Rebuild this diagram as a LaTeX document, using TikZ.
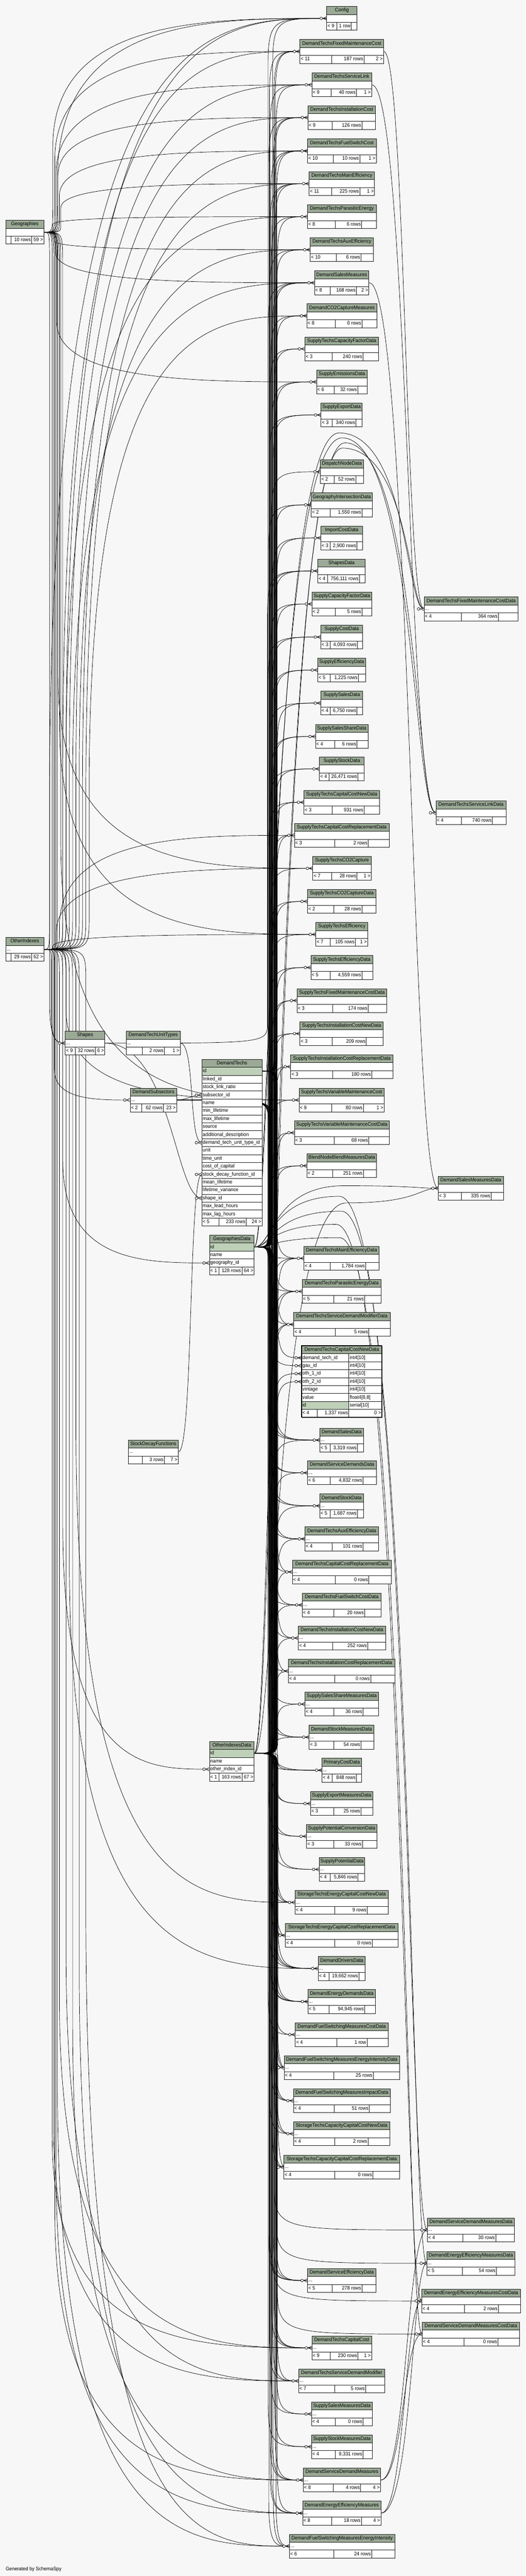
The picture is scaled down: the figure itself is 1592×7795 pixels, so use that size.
\documentclass[tikz,border=0pt]{standalone}
\usepackage{fontspec}
\setmainfont{Liberation Sans}[FakeStretch=0.93]
\usetikzlibrary{calc}
\definecolor{bgc}{RGB}{247,247,247}
\definecolor{hdr}{RGB}{155,170,150}
\definecolor{idc}{RGB}{190,209,184}
\newcommand\fs{\fontsize{15.5}{18}\selectfont}
\tikzset{
 cell/.style={draw=black!90, line width=1.3pt, inner sep=0pt, minimum height=24pt, anchor=north west, fill=white},
 hcell/.style={cell, fill=hdr, font=\fs, text height=11.5pt, text depth=3.5pt},
 lbl/.style={inner sep=0pt, font=\fs, text height=11.5pt, text depth=3.5pt},
 edge/.style={line width=1.1pt, draw=black},
}
\pgfdeclarelayer{bglayer}\pgfdeclarelayer{edgelayer}\pgfsetlayers{bglayer,edgelayer,main}
\def\fty{48}
\newcommand\tb[6]{\def\tbid{#1}\def\tbx{#2}\def\tby{#3}\def\tbw{#4}%
 \node[hcell,minimum width=#4pt] (#1) at (#2,#3) {#5};
 \node[cell,minimum width=#4pt] (#1r) at (#2,#3+24) {};
 \node[lbl,anchor=west,xshift=3pt] (#1rt) at (#1r.west) {#6};}
\newcommand\ft[5]{\pgfmathsetmacro\wa{#1-\tbx}\pgfmathsetmacro\wb{#2-#1}\pgfmathsetmacro\wc{\tbx+\tbw-#2}%
 \node[cell,minimum width=\wa pt] (\tbid fa) at (\tbx,\tby+\fty) {};
 \node[lbl,anchor=west,xshift=3pt] at (\tbid fa.west) {#3};
 \node[cell,minimum width=\wb pt] (\tbid fb) at (#1,\tby+\fty) {};
 \node[lbl,anchor=east,xshift=-3pt] at (\tbid fb.east) {#4};
 \node[cell,minimum width=\wc pt] (\tbid fc) at (#2,\tby+\fty) {};
 \node[lbl,anchor=east,xshift=-3pt] at (\tbid fc.east) {#5};}
\newcommand\fr[4]{%
 \node[cell,fill=#4,minimum width=143pt] (fc#1) at (913,4072+24*#1) {};
 \node[lbl,anchor=west,xshift=3pt] at (fc#1.west) {#2};
 \node[cell,minimum width=100pt] (fct#1) at (1056,4072+24*#1) {};
 \node[lbl,anchor=west,xshift=3pt] at (fct#1.west) {#3};}
% edges
\newcommand\bun[3]{\draw[edge] let \p1=(#1), \p2=(#2), \n1={ifthenelse(\y2<\y1,-1,1)}, \n2={min(60,abs(\y2-\y1)/4)}, \n3={min(140,abs(\y2-\y1)/2)} in
 (\p1) .. controls ({(#3)*1pt},\y1) .. ({(#3)*1pt},{\y1+(\n1)*(\n2)}) -- ({(#3)*1pt},{\y2-(\n1)*(\n3)}) .. controls ({(#3)*1pt},\y2) and ({(#3)*1pt+20pt},\y2) .. (\p2);}
\newcommand\lft[4]{\draw[edge] let \p1=(#1), \p2=(#2), \n1={ifthenelse(\y2<\y1,-1,1)}, \n2={abs(\y2-\y1)} in
 (\p1) .. controls ({(#3)*1pt},\y1) .. ({(#3)*1pt},{\y1+(\n1)*min(100,0.15*\n2)}) -- ({(#3)*1pt},{\y2-(\n1)*(#4)*\n2}) .. controls ({(#3)*1pt},\y2) and ({\x2-0.45*(\x2-(#3)*1pt)},\y2) .. (\p2);}
\newcommand\rgt[3]{\draw[edge] let \p1=(#1), \p2=(#2) in (\p1) .. controls ({(#3)*1pt},\y1) and ({(#3)*1pt},\y2) .. (\p2);}
\newcommand\arch[5]{\draw[edge] let \p1=(#1), \p2=(#2) in (\p1) .. controls ({(#3)*1pt},\y1) and ({(#3)*1pt},{-(#4)*1pt}) .. ({((#3)+(#5))/2*1pt},{-(#4)*1pt}) .. controls ({(#5)*1pt},{-(#4)*1pt}) and ({(#5)*1pt},\y2) .. (\p2);}
\newcommand\eG[3]{\lft{geor.east}{#1.west}{#2}{#3}}
\newcommand\eO[3]{\lft{othr.east}{#1.west}{#2}{#3}}
\newcommand\mk[1]{\draw[edge,fill=white] ([xshift=-16pt]#1) circle (4pt);
 \draw[edge] ([xshift=-11pt]#1) -- ([yshift=5pt]#1) ([xshift=-11pt]#1) -- ([yshift=-5pt]#1);}
\begin{document}
\begin{tikzpicture}[x=1pt,y=-1pt]
\useasboundingbox (0,0) rectangle (1592,7795);
\begin{pgfonlayer}{bglayer}\fill[bgc] (0,0) rectangle (1592,7795);\end{pgfonlayer}
% ---------------- central column
\tb{cfg}{989}{19}{92}{Config}{}\ft{1019}{1064}{< 9}{1 row}{}
\tb{dtfmc}{908}{119}{253}{DemandTechsFixedMaintenanceCost}{}\ft{1004}{1102}{< 11}{187 rows}{2 >}
\tb{dtsl}{944}{220}{181}{DemandTechsServiceLink}{}\ft{1003}{1079}{< 9}{40 rows}{1 >}
\tb{dtinst}{932}{319}{205}{DemandTechsInstallationCost}{}\ft{1005}{1096}{< 9}{126 rows}{}
\tb{dtfsc}{931}{420}{208}{DemandTechsFuelSwitchCost}{}\ft{1008}{1089}{< 10}{10 rows}{1 >}
\tb{dtme}{936}{519}{198}{DemandTechsMainEfficiency}{}\ft{1004}{1089}{< 11}{225 rows}{1 >}
\tb{dtpe}{931}{619}{208}{DemandTechsParasiticEnergy}{}\ft{1015}{1095}{< 8}{6 rows}{}
\tb{dtae}{939}{719}{192}{DemandTechsAuxEfficiency}{}\ft{1018}{1093}{< 10}{6 rows}{}
\tb{dsm}{952}{819}{165}{DemandSalesMeasures}{}\ft{1000}{1079}{< 8}{168 rows}{2 >}
\tb{dco}{929}{919}{212}{DemandCO2CaptureMeasures}{}\ft{1015}{1096}{< 8}{0 rows}{}
\tb{stcfd}{923}{1019}{223}{SupplyTechsCapacityFactorData}{}\ft{1005}{1099}{< 3}{240 rows}{}
\tb{sed}{958}{1119}{154}{SupplyEmissionsData}{}\ft{1011}{1083}{< 6}{32 rows}{}
\tb{sexd}{972}{1219}{124}{SupplyExportData}{}\ft{1005}{1078}{< 3}{340 rows}{}
\tb{dnd}{970}{1391}{130}{DispatchNodeData}{}\ft{1011}{1077}{< 2}{52 rows}{}
\tb{gid}{942}{1491}{185}{GeographyIntersectionData}{}\ft{1000}{1096}{< 2}{1,550 rows}{}
\tb{icd}{971}{1591}{127}{ImportCostData}{}\ft{1000}{1081}{< 3}{2,900 rows}{}
\tb{shd}{962}{1691}{144}{ShapesData}{}\ft{992}{1088}{< 4}{756,111 rows}{}
\tb{scfd}{944}{1791}{182}{SupplyCapacityFactorData}{}\ft{1015}{1096}{< 2}{5 rows}{}
\tb{scd}{971}{1891}{127}{SupplyCostData}{}\ft{1000}{1082}{< 3}{4,093 rows}{}
\tb{sefd}{962}{1991}{145}{SupplyEfficiencyData}{}\ft{1000}{1085}{< 5}{1,225 rows}{}
\tb{ssd}{971}{2091}{127}{SupplySalesData}{}\ft{1000}{1081}{< 4}{6,750 rows}{}
\tb{sssd}{955}{2192}{159}{SupplySalesShareData}{}\ft{1013}{1081}{< 4}{6 rows}{}
\tb{sstd}{967}{2290}{135}{SupplyStockData}{}\ft{996}{1084}{< 4}{26,471 rows}{}
\tb{stccn}{920}{2391}{229}{SupplyTechsCapitalCostNewData}{}\ft{1005}{1102}{< 3}{931 rows}{}
\tb{stccr}{891}{2491}{287}{SupplyTechsCapitalCostReplacementData}{}\ft{1013}{1115}{< 3}{2 rows}{}
\tb{stco}{947}{2591}{177}{SupplyTechsCO2Capture}{}\ft{1004}{1081}{< 7}{28 rows}{1 >}
\tb{stcod}{931}{2691}{207}{SupplyTechsCO2CaptureData}{}\ft{1010}{1096}{< 2}{28 rows}{}
\tb{ste}{956}{2791}{157}{SupplyTechsEfficiency}{}\ft{1000}{1076}{< 7}{105 rows}{1 >}
\tb{sted}{941}{2891}{187}{SupplyTechsEfficiencyData}{}\ft{1000}{1096}{< 5}{4,559 rows}{}
\tb{stfmcd}{899}{2991}{272}{SupplyTechsFixedMaintenanceCostData}{}\ft{1007}{1115}{< 3}{174 rows}{}
\tb{sticn}{908}{3091}{252}{SupplyTechsInstallationCostNewData}{}\ft{1005}{1109}{< 3}{209 rows}{}
\tb{sticr}{880}{3191}{310}{SupplyTechsInstallationCostReplacementData}{}\ft{1007}{1125}{< 3}{180 rows}{}
\tb{stvmc}{905}{3292}{258}{SupplyTechsVariableMaintenanceCost}{}\ft{1004}{1100}{< 9}{80 rows}{1 >}
\tb{stvmcd}{891}{3391}{288}{SupplyTechsVariableMaintenanceCostData}{}\ft{1011}{1117}{< 3}{68 rows}{}
\tb{bnb}{929}{3491}{211}{BlendNodeBlendMeasuresData}{}\ft{1007}{1100}{< 2}{251 rows}{}
\tb{dtmed}{920}{3771}{228}{DemandTechsMainEfficiencyData}{}\ft{1000}{1107}{< 4}{1,784 rows}{}
\tb{dtped}{915}{3871}{239}{DemandTechsParasiticEnergyData}{}\ft{1010}{1104}{< 5}{21 rows}{}
\tb{dtsdmd}{889}{3971}{292}{DemandTechsServiceDemandModifierData}{}\ft{1015}{1117}{< 4}{5 rows}{}
% focus table
\node[hcell,minimum width=243pt] (fc) at (913,4072) {DemandTechsCapitalCostNewData};
\fr{1}{demand\_tech\_id}{int4[10]}{white}
\fr{2}{gau\_id}{int4[10]}{white}
\fr{3}{oth\_1\_id}{int4[10]}{white}
\fr{4}{oth\_2\_id}{int4[10]}{white}
\fr{5}{vintage}{int4[10]}{white}
\fr{6}{value}{float4[8,8]}{white}
\fr{7}{id}{serial[10]}{idc}
\def\tbid{fc}\def\tbx{913}\def\tby{4072}\def\tbw{243}\def\fty{192}\ft{960}{1056}{< 4}{1,337 rows}{0 >}\def\fty{48}
\draw[line width=3pt] (913,4072) rectangle (1156,4288);
\tb{dsd}{968}{4321}{132}{DemandSalesData}{...}\ft{1000}{1082}{< 5}{3,319 rows}{}
\tb{dsdd}{931}{4420}{209}{DemandServiceDemandsData}{...}\ft{1000}{1099}{< 6}{4,832 rows}{}
\tb{dstd}{968}{4520}{132}{DemandStockData}{...}\ft{1000}{1082}{< 5}{1,687 rows}{}
\tb{dtaed}{923}{4620}{223}{DemandTechsAuxEfficiencyData}{...}\ft{1005}{1099}{< 4}{101 rows}{}
\tb{dtcrd}{885}{4720}{300}{DemandTechsCapitalCostReplacementData}{...}\ft{1015}{1117}{< 4}{0 rows}{}
\tb{dtfscd}{915}{4820}{239}{DemandTechsFuelSwitchCostData}{...}\ft{1010}{1104}{< 4}{20 rows}{}
\tb{dtinn}{903}{4920}{264}{DemandTechsInstallationCostNewData}{...}\ft{1007}{1113}{< 4}{252 rows}{}
\tb{dtinr}{873}{5020}{322}{DemandTechsInstallationCostReplacementData}{...}\ft{1013}{1122}{< 4}{0 rows}{}
\tb{sssmd}{923}{5120}{223}{SupplySalesShareMeasuresData}{...}\ft{1010}{1099}{< 4}{36 rows}{}
\tb{dstmd}{936}{5220}{196}{DemandStockMeasuresData}{...}\ft{1010}{1093}{< 3}{54 rows}{}
\tb{pcd}{975}{5320}{119}{PrimaryCostData}{...}\ft{1005}{1079}{< 4}{848 rows}{}
\tb{sexmd}{940}{5421}{188}{SupplyExportMeasuresData}{...}\ft{1010}{1093}{< 3}{25 rows}{}
\tb{spcd}{928}{5520}{213}{SupplyPotentialConversionData}{...}\ft{1010}{1097}{< 3}{33 rows}{}
\tb{spd}{966}{5620}{138}{SupplyPotentialData}{...}\ft{1000}{1084}{< 4}{5,846 rows}{}
\tb{steccn}{893}{5720}{282}{StorageTechsEnergyCapitalCostNewData}{...}\ft{1013}{1112}{< 4}{9 rows}{}
\tb{steccr}{864}{5820}{341}{StorageTechsEnergyCapitalCostReplacementData}{...}\ft{1013}{1127}{< 4}{0 rows}{}
\tb{ddd}{963}{5920}{143}{DemandDriversData}{...}\ft{996}{1086}{< 4}{19,662 rows}{}
\tb{dedd}{932}{6020}{205}{DemandEnergyDemandsData}{...}\ft{996}{1104}{< 5}{94,945 rows}{}
\tb{dfsmcd}{894}{6120}{281}{DemandFuelSwitchingMeasuresCostData}{...}\ft{1019}{1111}{< 4}{1 row}{}
\tb{dfsmeid}{860}{6220}{349}{DemandFuelSwitchingMeasuresEnergyIntensityData}{...}\ft{1010}{1130}{< 4}{25 rows}{}
\tb{dfsmid}{888}{6320}{294}{DemandFuelSwitchingMeasuresImpactData}{...}\ft{1011}{1118}{< 4}{51 rows}{}
\tb{stcccn}{888}{6420}{292}{StorageTechsCapacityCapitalCostNewData}{...}\ft{1013}{1114}{< 4}{2 rows}{}
\tb{stcccr}{859}{6521}{351}{StorageTechsCapacityCapitalCostReplacementData}{...}\ft{1013}{1129}{< 4}{0 rows}{}
\tb{dsefd}{931}{6864}{207}{DemandServiceEfficiencyData}{...}\ft{1005}{1096}{< 5}{278 rows}{}
\tb{dtcc}{944}{7068}{181}{DemandTechsCapitalCost}{...}\ft{1000}{1084}{< 9}{230 rows}{1 >}
\tb{dtsdm}{904}{7168}{261}{DemandTechsServiceDemandModifier}{...}\ft{1013}{1107}{< 7}{5 rows}{}
\tb{ssmd}{943}{7268}{184}{SupplySalesMeasuresData}{...}\ft{1015}{1099}{< 4}{0 rows}{}
\tb{sstmd}{943}{7367}{184}{SupplyStockMeasuresData}{...}\ft{1015}{1099}{< 4}{9,331 rows}{}
\tb{dsdm}{918}{7468}{234}{DemandServiceDemandMeasures}{...}\ft{1008}{1092}{< 8}{4 rows}{4 >}
\tb{deem}{916}{7568}{237}{DemandEnergyEfficiencyMeasures}{...}\ft{1004}{1094}{< 8}{18 rows}{4 >}
\tb{dfsmei}{876}{7668}{319}{DemandFuelSwitchingMeasuresEnergyIntensity}{...}\ft{1010}{1125}{< 6}{24 rows}{}
% ---------------- right column
\tb{dtfmcd}{1284}{1806}{285}{DemandTechsFixedMaintenanceCostData}{...}\ft{1397}{1509}{< 4}{364 rows}{}
\tb{dtsld}{1320}{2423}{212}{DemandTechsServiceLinkData}{}\ft{1397}{1491}{< 4}{740 rows}{}
\tb{dsmd}{1327}{3559}{197}{DemandSalesMeasuresData}{}\ft{1397}{1487}{< 3}{335 rows}{}
\tb{dsdmd}{1294}{6711}{264}{DemandServiceDemandMeasuresData}{...}\ft{1402}{1501}{< 4}{30 rows}{}
\tb{deemd}{1292}{6812}{267}{DemandEnergyEfficiencyMeasuresData}{...}\ft{1400}{1503}{< 5}{54 rows}{}
\tb{deemcd}{1277}{6926}{299}{DemandEnergyEfficiencyMeasuresCostData}{}\ft{1406}{1509}{< 4}{2 rows}{}
\tb{dsdmcd}{1278}{7026}{295}{DemandServiceDemandMeasuresCostData}{}\ft{1405}{1508}{< 4}{0 rows}{}
% ---------------- left side
\tb{geo}{17}{666}{115}{Geographies}{}\ft{33.5}{95.4}{}{10 rows}{59 >}
\tb{oth}{17}{2836}{115}{OtherIndexes}{...}\ft{33.5}{95.4}{}{29 rows}{62 >}
\tb{shp}{197}{3120}{120}{Shapes}{...}\ft{227}{288}{< 9}{32 rows}{6 >}
\tb{dtut}{382}{3120}{163}{DemandTechUnitTypes}{...}\ft{431}{497}{}{2 rows}{1 >}
\tb{dss}{394}{3292}{140}{DemandSubsectors}{...}\ft{429}{494}{< 2}{62 rows}{23 >}
\tb{sdf}{388}{4357}{151}{StockDecayFunctions}{...}\ft{431}{497}{}{3 rows}{7 >}
\node[hcell,minimum width=182pt] (dt) at (611,3205) {DemandTechs};
\foreach \t [count=\i] in {id,linked\_id,stock\_link\_ratio,subsector\_id,name,min\_lifetime,max\_lifetime,source,additional\_description,demand\_tech\_unit\_type\_id,unit,time\_unit,cost\_of\_capital,stock\_decay\_function\_id,mean\_lifetime,lifetime\_variance,shape\_id,max\_lead\_hours,max\_lag\_hours}{
 \ifnum\i=1 \def\ff{idc}\else\def\ff{white}\fi
 \node[cell,fill=\ff,minimum width=182pt] (dt\i) at (611,3205+24*\i) {};
 \node[lbl,anchor=west,xshift=3pt] at (dt\i.west) {\t};
}
\def\tbid{dt}\def\tbx{611}\def\tby{3205}\def\tbw{182}\def\fty{480}\ft{663}{745}{< 5}{233 rows}{24 >}\def\fty{48}
\node[hcell,minimum width=135pt] (gd) at (634,3737) {GeographiesData};
\node[cell,fill=idc,minimum width=135pt] (gd1) at (634,3761) {};
\node[lbl,anchor=west,xshift=3pt] at (gd1.west) {id};
\node[cell,minimum width=135pt] (gd2) at (634,3785) {};
\node[lbl,anchor=west,xshift=3pt] at (gd2.west) {name};
\node[cell,minimum width=135pt] (gd3) at (634,3809) {};
\node[lbl,anchor=west,xshift=3pt] at (gd3.west) {geography\_id};
\def\tbid{gd}\def\tbx{634}\def\tby{3737}\def\tbw{135}\def\fty{96}\ft{663}{732}{< 1}{128 rows}{64 >}
\node[hcell,minimum width=135pt] (od) at (634,5269) {OtherIndexesData};
\node[cell,fill=idc,minimum width=135pt] (od1) at (634,5293) {};
\node[lbl,anchor=west,xshift=3pt] at (od1.west) {id};
\node[cell,minimum width=135pt] (od2) at (634,5317) {};
\node[lbl,anchor=west,xshift=3pt] at (od2.west) {name};
\node[cell,minimum width=135pt] (od3) at (634,5341) {};
\node[lbl,anchor=west,xshift=3pt] at (od3.west) {other\_index\_id};
\def\tbid{od}\def\tbx{634}\def\tby{5269}\def\tbw{135}\def\fty{96}\ft{663}{732}{< 1}{163 rows}{67 >}\def\fty{48}
\node[lbl,anchor=west] (gen) at (17,7774) {Generated by SchemaSpy};
% ---------------- connectors
\begin{pgfonlayer}{edgelayer}
% Geographies
\eG{cfgr}{160}{0.6}\eG{cfgr}{174}{0.75}\eG{dtfmcr}{166}{0.6}\eG{dtslr}{170}{0.6}
\eG{dtinstr}{176}{0.5}\eG{dtfscr}{180}{0.55}\eG{dtmer}{184}{0.5}\eG{dtper}{160}{0.5}
\eG{dtaer}{164}{0.5}\eG{dsmr}{168}{0.6}\eG{sedr}{172}{0.4}\eG{stcor}{176}{0.3}
\eG{ster}{180}{0.3}\eG{stvmcr}{184}{0.3}\eG{shpr}{150}{0.05}\eG{gd3}{190}{0.1}
\eG{dtccr}{158}{0.1}\eG{dtsdmr}{162}{0.12}\eG{dsdmr}{166}{0.12}\eG{deemr}{170}{0.15}
\eG{dfsmeir}{174}{0.2}
% OtherIndexes
\eO{cfgr}{150}{0.85}\eO{cfgr}{200}{0.8}\eO{dtfmcr}{190}{0.8}\eO{dtslr}{210}{0.8}
\eO{dtinstr}{230}{0.8}\eO{dtfscr}{250}{0.8}\eO{dtmer}{260}{0.8}\eO{dtper}{200}{0.75}
\eO{dtaer}{240}{0.75}\eO{dsmr}{220}{0.75}\eO{dcor}{270}{0.75}\eO{stccrr}{180}{0.8}
\eO{stcor}{170}{0.8}\eO{ster}{160}{0.8}\eO{stvmcr}{200}{0.6}\eO{shpr}{155}{0.3}
\eO{dssr}{165}{0.2}\eO{od3}{190}{0.3}\eO{dtccr}{180}{0.25}\eO{dtsdmr}{200}{0.3}
\eO{dsdmr}{220}{0.3}\eO{deemr}{240}{0.35}\eO{dfsmeir}{260}{0.4}\eO{dddr}{210}{0.4}
\eO{steccnr}{230}{0.5}
% local
\draw[edge] (dssr.east) .. controls +(30,0) and +(-30,0) .. (dt4.west);
\draw[edge] (dtutr.east) .. controls +(45,0) and +(-40,0) .. (dt10.west);
\draw[edge] (sdfr.east) .. controls +(45,0) and +(-40,0) .. (dt14.west);
\draw[edge] (shpr.east) .. controls +(200,0) and +(-80,0) .. (dt17.west);
\bun{shpr.east}{shdr.west}{810}
% DemandTechs
\foreach \ch/\bx in {dtfmcr/830,dtslr/836,dtinstr/832,dtfscr/838,dtmer/834,dtper/840,dtaer/836,dsmr/832,dtmedr/836,dtpedr/832,dtsdmdr/838,fc1/840,dsdr/834,dtaedr/830,dtcrdr/838,dtfscdr/834,dtinnr/840,dtinrr/836,dtccr/834,dtsdmr/840}{\bun{dt1.east}{\ch.west}{\bx}}
% GeographiesData
\foreach \ch/\bx in {cfgr/812,dtfmcr/816,dtslr/818,dtinstr/814,dtfscr/820,dtmer/818,dtper/822,dtaer/816,dsmr/812,dcor/820,stcfdr/818,sedr/824,sexdr/816,dndr/822,gidr/814,icdr/826,shdr/818,scfdr/820,scdr/812,sefdr/824,ssdr/816,sssdr/822,sstdr/818,stccnr/814,stccrr/826,stcor/820,stcodr/816,ster/822,stedr/818,stfmcdr/824,sticnr/812,sticrr/820,stvmcr/816,stvmcdr/826,bnbr/818,dtmedr/820,dtpedr/816,dtsdmdr/822,fc2/818,dsdr/824,dsddr/816,dstdr/826,dtaedr/818,dtcrdr/822,dtfscdr/812,dtinnr/824,dtinrr/816,sssmdr/820,dstmdr/826,pcdr/818,sexmdr/822,spcdr/814,spdr/824,steccnr/816,steccrr/820,dddr/828,deddr/818,dfsmcdr/812,dfsmeidr/826,dfsmidr/820,stcccnr/816,stcccrr/824,dsefdr/818,dtccr/822,dtsdmr/816,ssmdr/820,sstmdr/812,dsdmr/824,deemr/818,dfsmeir/828}{\bun{gd1.east}{\ch.west}{\bx}}
% OtherIndexesData
\foreach \ch/\bx in {cfgr/826,dtfmcr/834,dtinstr/828,dtfscr/830,dtmer/824,dsmr/826,dcor/836,stcfdr/830,sedr/834,sexdr/828,gidr/832,icdr/838,shdr/830,scfdr/836,scdr/826,sefdr/832,ssdr/840,sssdr/828,sstdr/834,stccnr/830,stccrr/838,stcodr/832,stedr/836,stfmcdr/830,sticnr/828,sticrr/834,stvmcdr/838,bnbr/832,dtmedr/826,dtmedr/842,dtpedr/830,dtpedr/840,dtsdmdr/828,dtsdmdr/834,fc3/830,fc4/836,dsdr/828,dsddr/832,dstdr/836,dtaedr/840,dtcrdr/834,dtfscdr/828,dtinnr/832,dtinrr/830,sssmdr/838,dstmdr/834,pcdr/828,pcdr/842,sexmdr/836,spcdr/830,spdr/840,steccnr/832,steccnr/838,steccrr/826,steccrr/836,dddr/834,dddr/842,deddr/830,deddr/838,dfsmcdr/832,dfsmeidr/836,dfsmeidr/840,dfsmidr/828,dfsmidr/834,stcccnr/832,stcccnr/838,stcccrr/830,stcccrr/842,dsefdr/828,dsefdr/836,dtccr/830,dtsdmr/826,ssmdr/838,sstmdr/832,dsdmr/834,deemr/840,dfsmeir/836,dsdmdr/830,deemdr/836,deemcdr/826,dsdmcdr/840}{\bun{od1.east}{\ch.west}{\bx}}
% DemandSubsectors
\foreach \ch/\bx in {dsdr/812,dsddr/820,dstdr/814,dstmdr/812,dddr/816,deddr/822,dsefdr/814,dsdmr/818,deemr/822,dfsmeir/814}{\bun{dssr.east}{\ch.west}{\bx}}
% right column
\rgt{dtfmcr.east}{dtfmcdr.west}{1228}
\rgt{dtslr.east}{dtsldr.west}{1236}
\rgt{dsmr.east}{dsmdr.west}{1244}
\rgt{dsdmr.east}{dsdmdr.west}{1232}
\rgt{dsdmr.east}{dsdmcdr.west}{1222}
\rgt{deemr.east}{deemdr.west}{1248}
\rgt{deemr.east}{deemcdr.west}{1226}
\arch{gd1.east}{dtfmcdr.west}{822}{1310}{1232}
\arch{od1.east}{dtfmcdr.west}{834}{1356}{1240}
\arch{gd1.east}{dtsldr.west}{818}{1325}{1254}
\arch{od1.east}{dtsldr.west}{828}{1340}{1262}
\arch{gd1.east}{dsmdr.west}{826}{3588}{1258}
\arch{od1.east}{dsmdr.west}{832}{3640}{1266}
\arch{gd1.east}{dsdmdr.west}{820}{3620}{1236}
\arch{gd1.east}{deemdr.west}{824}{3665}{1244}
\arch{gd1.east}{deemcdr.west}{816}{3705}{1220}
\arch{gd1.east}{dsdmcdr.west}{828}{3745}{1228}
% markers
\foreach \q in {cfgr,dtfmcr,dtslr,dtinstr,dtfscr,dtmer,dtper,dtaer,dsmr,dcor,stcfdr,sedr,sexdr,dndr,gidr,icdr,shdr,scfdr,scdr,sefdr,ssdr,sssdr,sstdr,stccnr,stccrr,stcor,stcodr,ster,stedr,stfmcdr,sticnr,sticrr,stvmcr,stvmcdr,bnbr,dtmedr,dtpedr,dtsdmdr,fc1,fc2,fc3,fc4,dsdr,dsddr,dstdr,dtaedr,dtcrdr,dtfscdr,dtinnr,dtinrr,sssmdr,dstmdr,pcdr,sexmdr,spcdr,spdr,steccnr,steccrr,dddr,deddr,dfsmcdr,dfsmeidr,dfsmidr,stcccnr,stcccrr,dsefdr,dtccr,dtsdmr,ssmdr,sstmdr,dsdmr,deemr,dfsmeir,dtfmcdr,dtsldr,dsmdr,dsdmdr,deemdr,deemcdr,dsdmcdr,dt4,dt10,dt14,dt17,gd3,od3,shpr,dssr}{\mk{\q.west}}
\end{pgfonlayer}
\end{tikzpicture}
\end{document}
